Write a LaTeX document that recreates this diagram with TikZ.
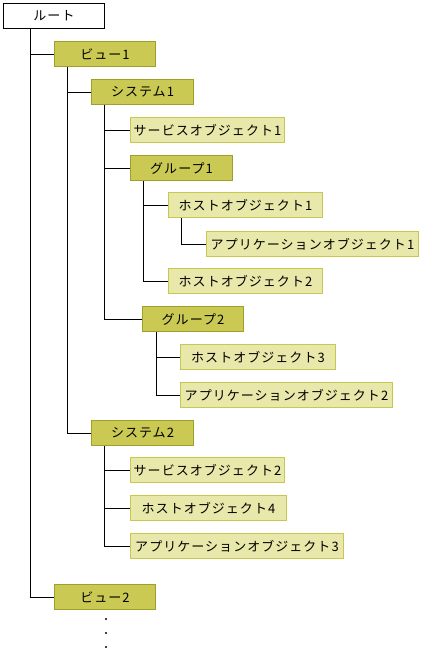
\documentclass[tikz,border=0pt]{standalone}
\usepackage{fontspec}
\newfontfamily\jpfont[LetterSpace=8]{Noto Sans CJK JP}
\usepackage{tikz}
\usetikzlibrary{positioning, calc}
\definecolor{olivedark}{RGB}{201, 201, 84}
\definecolor{olivedarkline}{RGB}{160, 160, 40}
\definecolor{olivelight}{RGB}{232, 232, 170}
\definecolor{olivelightline}{RGB}{200, 200, 80}

\tikzset{
  box/.style={anchor=north west, minimum height=25pt, inner sep=0pt,
    font=\jpfont\fontsize{13}{13}\selectfont, line width=1pt},
  rootbox/.style={box, draw=black, fill=white, minimum width=101pt},
  darkbox/.style={box, draw=olivedarkline, fill=olivedark},
  lightbox/.style={box, draw=olivelightline, fill=olivelight},
  link/.style={line width=0.9pt, black}
}

\begin{document}
\begin{tikzpicture}[x=1pt, y=-1pt]
    \useasboundingbox (0,0) rectangle (421,663);

    \node[rootbox] (root) at (3,3) {ルート};
    \node[darkbox, minimum width=101pt] (view1) at (54,41) {ビュー1};
    \node[darkbox, minimum width=102pt] (sys1) at (91,79) {システム1};
    \node[lightbox, minimum width=154pt] (svc1) at (130,117) {サービスオブジェクト1};
    \node[darkbox, minimum width=102pt] (grp1) at (130,155) {グループ1};
    \node[lightbox, minimum width=154pt] (host1) at (168,192) {ホストオブジェクト1};
    \node[lightbox, minimum width=212pt] (app1) at (206,231) {アプリケーションオブジェクト1};
    \node[lightbox, minimum width=154pt] (host2) at (168,268) {ホストオブジェクト2};
    \node[darkbox, minimum width=101pt] (grp2) at (142,306) {グループ2};
    \node[lightbox, minimum width=155pt] (host3) at (180,344) {ホストオブジェクト3};
    \node[lightbox, minimum width=212pt] (app2) at (180,382) {アプリケーションオブジェクト2};
    \node[darkbox, minimum width=102pt] (sys2) at (91,420) {システム2};
    \node[lightbox, minimum width=154pt] (svc2) at (130,457) {サービスオブジェクト2};
    \node[lightbox, minimum width=156pt] (host4) at (130,495) {ホストオブジェクト4};
    \node[lightbox, minimum width=213pt] (app3) at (130,533) {アプリケーションオブジェクト3};
    \node[darkbox, minimum width=101pt] (view2) at (54,584) {ビュー2};

    % 枝
    \foreach \child in {view1, view2}
        \draw[link] ([xshift=27pt]root.south west) |- (\child.west);
    \foreach \child in {sys1, sys2}
        \draw[link] ([xshift=13pt]view1.south west) |- (\child.west);
    \foreach \child in {svc1, grp1, grp2}
        \draw[link] ([xshift=13pt]sys1.south west) |- (\child.west);
    \foreach \child in {host1, host2}
        \draw[link] ([xshift=13pt]grp1.south west) |- (\child.west);
    \draw[link] ([xshift=13pt]host1.south west) |- (app1.west);
    \foreach \child in {host3, app2}
        \draw[link] ([xshift=14pt]grp2.south west) |- (\child.west);
    \foreach \child in {svc2, host4, app3}
        \draw[link] ([xshift=13pt]sys2.south west) |- (\child.west);

    % 省略
    \foreach \y in {619, 633, 647}
        \fill (106,\y) circle (1.1pt);
\end{tikzpicture}
\end{document}
